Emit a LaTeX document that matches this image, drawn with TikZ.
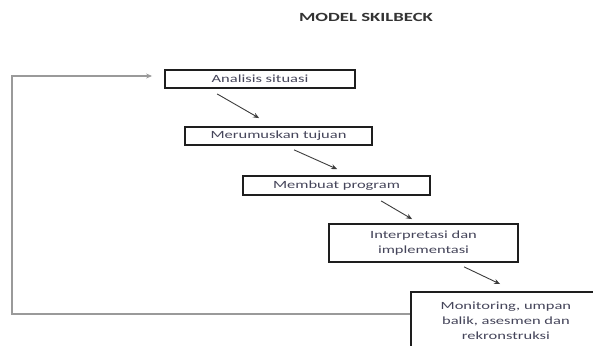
\documentclass[tikz,border=0pt]{standalone}
\usepackage{fontspec}
\setmainfont{Carlito}
\newfontfamily\boxfont[FakeStretch=1.5]{Carlito}
\usetikzlibrary{calc,arrows.meta}
\definecolor{boxline}{HTML}{1E1E1E}
\definecolor{txt}{HTML}{45455A}
\definecolor{arrline}{HTML}{3C3C3C}
\definecolor{fbline}{HTML}{9A9A9A}
\tikzset{
  stagebox/.style={draw=boxline, line width=1.8pt, fill=white, inner sep=0pt,
    text=txt, align=center, font=\boxfont\fontsize{11}{15}\selectfont},
  flowarrow/.style={draw=arrline, line width=0.9pt, -{Stealth[length=6pt,width=5pt]}},
  backline/.style={draw=fbline, line width=1.4pt, -{Stealth[length=6pt,width=5pt]}}
}
\begin{document}
\begin{tikzpicture}[x=1pt,y=-1pt]
\useasboundingbox (0,0) rectangle (593,345);
\clip (0,0) rectangle (593,345);
\node[font=\boxfont\bfseries\fontsize{12.5}{14}\selectfont, text=black!80] (title) at (366,17) {MODEL SKILBECK};
\node[stagebox, minimum width=190pt, minimum height=18pt] (b1) at (260,79) {Analisis situasi};
\node[stagebox, minimum width=187pt, minimum height=18pt] (b2) at (278.5,136) {Merumuskan tujuan};
\node[stagebox, minimum width=187pt, minimum height=19pt] (b3) at (336.5,185.5) {Membuat program};
\node[stagebox, minimum width=189pt, minimum height=38pt] (b4) at (423.5,243) {Interpretasi dan\\implementasi};
\node[stagebox, minimum width=190pt, minimum height=58pt, anchor=north west] (b5) at (410,291) {Monitoring, umpan\\balik, asesmen dan\\rekronstruksi};
\draw[flowarrow] ($(b1.south west)+(53,5)$) -- ($(b2.north west)+(75,-8)$);
\draw[flowarrow] ($(b2.south west)+(110,4)$) -- ($(b3.north west)+(95,-6)$);
\draw[flowarrow] ($(b3.south west)+(139,5)$) -- ($(b4.north west)+(84,-4)$);
\draw[flowarrow] ($(b4.south west)+(136,4)$) -- ($(b5.north west)+(90,-7)$);
\coordinate (fbstart) at ($(b5.north west)+(0,23)$);
\coordinate (fbcornerA) at (12,314);
\coordinate (fbcornerB) at (12,76);
\coordinate (fbend) at ($(b1.west)+(-12,-3)$);
\draw[backline] (fbstart) -- (fbcornerA) -- (fbcornerB) -- (fbend);
\end{tikzpicture}
\end{document}
